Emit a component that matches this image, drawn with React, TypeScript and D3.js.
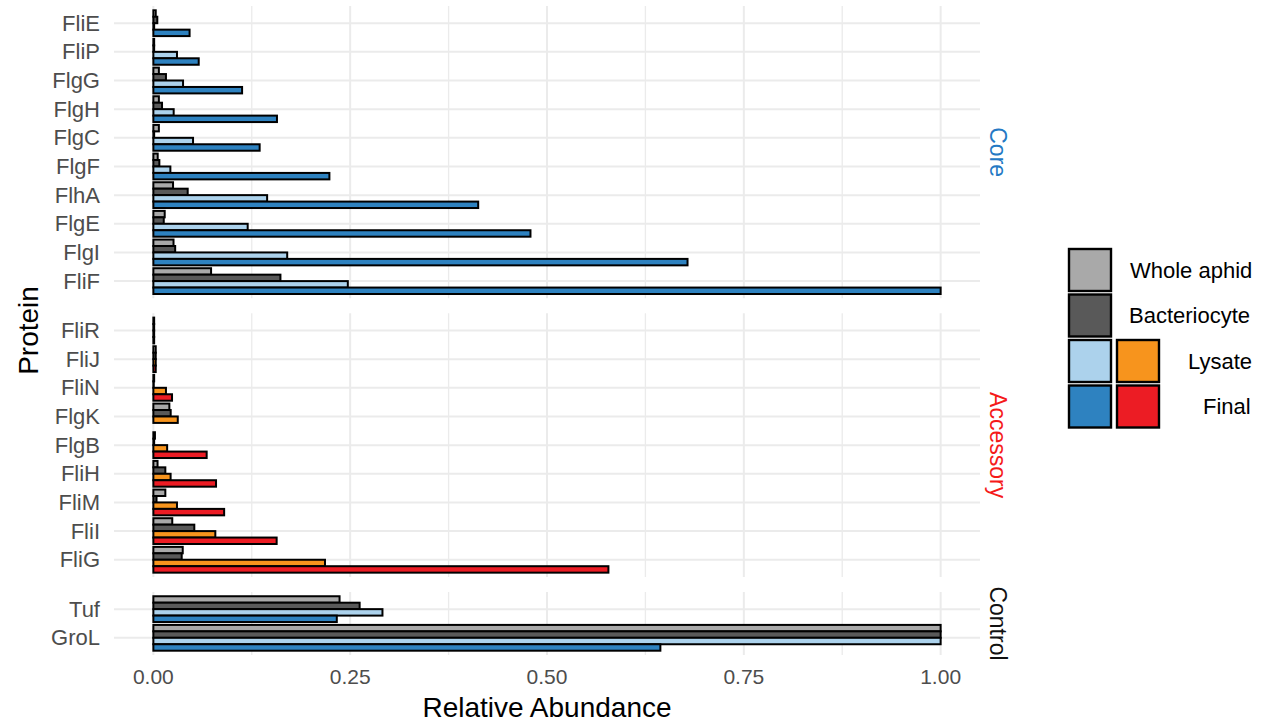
import * as d3 from 'd3';

// proteins per facet (top to bottom)
const coreProteins = ['FliE', 'FliP', 'FlgG', 'FlgH', 'FlgC', 'FlgF', 'FlhA', 'FlgE', 'FlgI', 'FliF'];
const accessoryProteins = ['FliR', 'FliJ', 'FliN', 'FlgK', 'FlgB', 'FliH', 'FliM', 'FliI', 'FliG'];
const controlProteins = ['Tuf', 'GroL'];

const samples = ['Whole aphid', 'Bacteriocyte', 'Lysate', 'Final'];

// relative abundance, same order as the protein lists
const coreWhole = [0.003, 0.001, 0.007, 0.007, 0.007, 0.0055, 0.025, 0.0144, 0.0256, 0.0733];
const coreBacteriocyte = [0.005, 0.001, 0.016, 0.011, 0.001, 0.0076, 0.0436, 0.0132, 0.0277, 0.1614];
const coreLysate = [0.001, 0.030, 0.0377, 0.0258, 0.0504, 0.0216, 0.1445, 0.1198, 0.170, 0.247];
const coreFinal = [0.046, 0.0576, 0.1127, 0.157, 0.135, 0.2236, 0.4126, 0.479, 0.6785, 1.0];

const accessoryWhole = [0.001, 0.003, 0.001, 0.0203, 0.002, 0.0053, 0.0152, 0.024, 0.0373];
const accessoryBacteriocyte = [0.001, 0.003, 0.0005, 0.022, 0.001, 0.0152, 0.004, 0.052, 0.036];
const accessoryLysate = [0.001, 0.003, 0.016, 0.031, 0.0175, 0.0219, 0.030, 0.0787, 0.218];
const accessoryFinal = [0.001, 0.003, 0.0237, 0, 0.0677, 0.0796, 0.0899, 0.1566, 0.578];

const controlWhole = [0.2365, 1.0];
const controlBacteriocyte = [0.262, 1.0];
const controlLysate = [0.291, 1.0];
const controlFinal = [0.233, 0.644];

const xTicks = [0, 0.25, 0.5, 0.75, 1.0];
const xMinor = [0.125, 0.375, 0.625, 0.875];

const blueFills = ['#a9a9a9', '#595959', '#acd2ec', '#2e82c0'];
const redFills = ['#a9a9a9', '#595959', '#f7941d', '#ec1c24'];

const panels = [
  { name: 'Core', color: '#2479c4', proteins: coreProteins, fills: blueFills,
    series: [coreWhole, coreBacteriocyte, coreLysate, coreFinal] },
  { name: 'Accessory', color: '#f51a1a', proteins: accessoryProteins, fills: redFills,
    series: [accessoryWhole, accessoryBacteriocyte, accessoryLysate, accessoryFinal] },
  { name: 'Control', color: '#111111', proteins: controlProteins, fills: blueFills,
    series: [controlWhole, controlBacteriocyte, controlLysate, controlFinal] },
];

const FONT = '"Liberation Sans", Arial, Helvetica, sans-serif';

export default function App() {
  const width = 1271;
  const height = 723;
  const left = 114;
  const right = 980;
  const top = 6;
  const bottom = 655;
  const gap = 15;

  const x = d3.scaleLinear().domain([-0.05, 1.05]).range([left, right]);

  // free space facets: each category gets the same height
  const units = d3.sum(panels, p => p.proteins.length - 1 + 1.2);
  const unit = (bottom - top - gap * (panels.length - 1)) / units;

  let cursor = top;
  const layout = panels.map(p => {
    const h = (p.proteins.length - 1 + 1.2) * unit;
    const y0 = cursor;
    cursor += h + gap;
    const y = d3.scalePoint().domain(p.proteins).range([y0, y0 + h]).padding(0.6);
    const inner = d3.scaleBand().domain(samples).range([-0.45 * unit, 0.45 * unit]);
    return { ...p, y0, y1: y0 + h, y, inner };
  });

  const legendRows = [
    { label: 'Whole aphid', fills: [blueFills[0]], tx: 1130 },
    { label: 'Bacteriocyte', fills: [blueFills[1]], tx: 1129 },
    { label: 'Lysate', fills: [blueFills[2], redFills[2]], tx: 1188 },
    { label: 'Final', fills: [blueFills[3], redFills[3]], tx: 1203 },
  ];

  return (
    <svg width={width} height={height} style={{ position: 'absolute', left: 0, top: 0, background: '#fff' }}
      fontFamily={FONT}>
      {layout.map(p => (
        <g key={p.name}>
          {/* grid */}
          {xMinor.map(t => (
            <line key={'m' + t} x1={x(t)} x2={x(t)} y1={p.y0} y2={p.y1} stroke="#ebebeb" strokeWidth={1.3} />
          ))}
          {xTicks.map(t => (
            <line key={'M' + t} x1={x(t)} x2={x(t)} y1={p.y0} y2={p.y1} stroke="#ebebeb" strokeWidth={2} />
          ))}
          {p.proteins.map(pr => (
            <line key={'h' + pr} x1={left} x2={right} y1={p.y(pr)} y2={p.y(pr)} stroke="#ebebeb" strokeWidth={2} />
          ))}
          {/* bars */}
          {p.proteins.map((pr, i) => (
            <g key={'b' + pr}>
              {samples.map((s, k) => (
                <rect key={s}
                  x={x(0)}
                  y={(p.y(pr) as number) + (p.inner(s) as number)}
                  width={x(p.series[k][i]) - x(0)}
                  height={p.inner.bandwidth()}
                  fill={p.fills[k]}
                  stroke="#000"
                  strokeWidth={2} />
              ))}
            </g>
          ))}
          {/* y tick labels */}
          {p.proteins.map(pr => (
            <text key={'t' + pr} x={100} y={p.y(pr)} textAnchor="end" dominantBaseline="central"
              fontSize={22} fill="#4d4d4d">{pr}</text>
          ))}
          {/* strip */}
          <text transform={`translate(998,${(p.y0 + p.y1) / 2}) rotate(90)`} textAnchor="middle"
            dominantBaseline="central" fontSize={23} fill={p.color}>{p.name}</text>
        </g>
      ))}

      {/* x axis */}
      {xTicks.map(t => (
        <text key={t} x={x(t)} y={676} textAnchor="middle" dominantBaseline="central"
          fontSize={21} fill="#4d4d4d">{d3.format('.2f')(t)}</text>
      ))}
      <text x={(left + right) / 2} y={717} textAnchor="middle" fontSize={28} fill="#000">Relative Abundance</text>
      <text transform={`translate(28,${(top + bottom) / 2}) rotate(-90)`} textAnchor="middle"
        dominantBaseline="central" fontSize={28} fill="#000">Protein</text>

      {/* legend */}
      {legendRows.map((r, i) => (
        <g key={r.label} transform={`translate(1069,${249 + i * 45.5})`}>
          {r.fills.map((f, j) => (
            <rect key={f} x={j * 48} y={0} width={42} height={42} fill={f} stroke="#000" strokeWidth={2.4} />
          ))}
          <text x={r.tx - 1069} y={21} dominantBaseline="central" fontSize={22} fill="#000">{r.label}</text>
        </g>
      ))}
    </svg>
  );
}
